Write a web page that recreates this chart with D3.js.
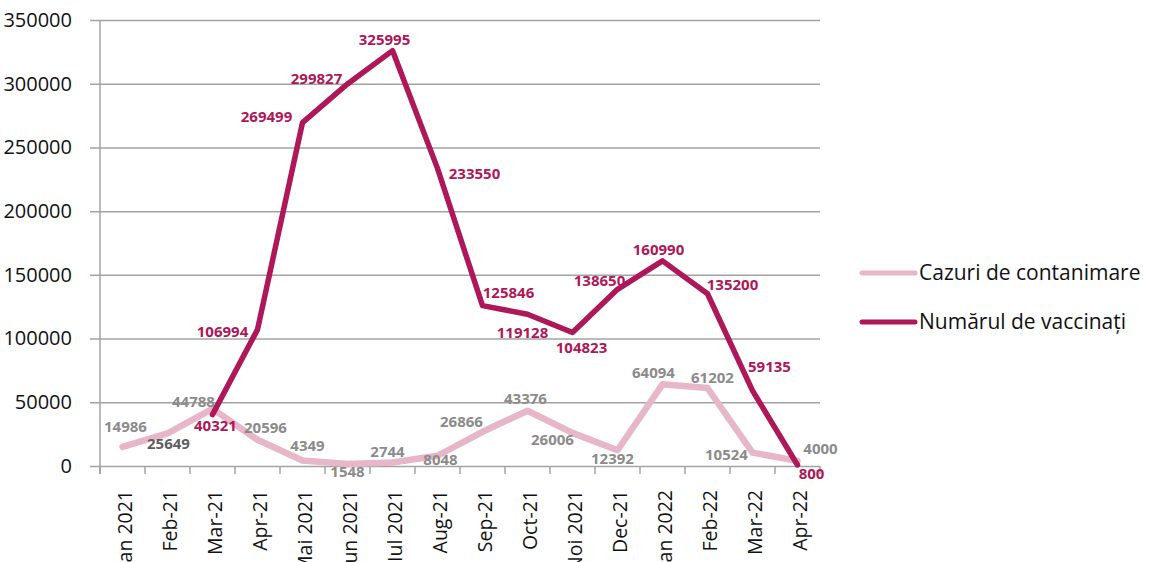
<!DOCTYPE html>
<html>
<head>
<meta charset="utf-8">
<script src="https://cdn.jsdelivr.net/npm/d3@7"></script>
<style>
  body { margin: 0; background: #fff; }
  .content { width: 1151px; height: 562px; overflow: hidden; }
  text { font-family: "Open Sans", "Noto Sans", sans-serif; }
</style>
</head>
<body>
<div class="content"></div>
<script>
var months = ['Ian 2021','Feb-21','Mar-21','Apr-21','Mai 2021','Iun 2021','Iul 2021','Aug-21',
  'Sep-21','Oct-21','Noi 2021','Dec-21','Ian 2022','Feb-22','Mar-22','Apr-22'];

var cazuri = [14986, 25649, 44788, 20596, 4349, 1548, 2744, 8048,
  26866, 43376, 26006, 12392, 64094, 61202, 10524, 4000];

// no vaccination data before Mar-21
var vaccinati = [null, null, 40321, 106994, 269499, 299827, 325995, 233550,
  125846, 119128, 104823, 138650, 160990, 135200, 59135, 800];

var yTicks = [0, 50000, 100000, 150000, 200000, 250000, 300000, 350000];

var seriesNames = ['Cazuri de contanimare', 'Numărul de vaccinați'];

// label offsets (dx, dy) from each point, like the excel placement
var cazuriLabelOff = [[3,-20],[1,10],[-19,-7],[8,-12],[5,-15],[0,8],[-5,-11],[3,4],
  [-21,-10],[-2,-12],[-20,7],[-5,8],[-9,-12],[5,-10],[-26,2],[23,-12]];
var vaccLabelOff = [null,null,[3,11],[-35,2],[-36,-6],[-31,-5],[-8,-11],[37,5],
  [26,-13],[-5,18],[9,15],[-18,-9],[-4,-11],[25,-9],[17,-24],[14,9]];

var pink = '#e7b6c9', crimson = '#ae1758';

var svg = d3.select('.content')
  .append('svg')
  .attr('width', 1151)
  .attr('height', 562);

var margin = {left: 100, top: 20},
  width = 720,
  height = 446;

var g = svg.append('g')
  .attr('transform', 'translate(' + margin.left + ',' + margin.top + ')');

var x = d3.scaleBand().range([0, width]).domain(months);
var y = d3.scaleLinear().range([height, 0]).domain([0, 350000]);

function cx(i) { return x(months[i]) + x.bandwidth() / 2; }

// grid + y axis
var axisY = g.append('g')
  .attr('class', 'axis axis--y')
  .call(d3.axisLeft(y).tickValues(yTicks).tickSize(-width).tickPadding(28).tickFormat(d3.format('d')));
axisY.selectAll('.tick line')
  .attr('x1', -10)
  .attr('stroke', '#a3a3a3')
  .attr('stroke-width', 1.5);
axisY.select('.domain').remove();
axisY.selectAll('text')
  .style('font-size', '20px')
  .style('fill', '#111');

g.append('line')
  .attr('x1', 0).attr('x2', 0)
  .attr('y1', 0).attr('y2', height + 8)
  .attr('stroke', '#a3a3a3')
  .attr('stroke-width', 1.5);

// x axis ticks between categories
var bounds = months.map(function (m) { return x(m); }).concat([width]);
g.append('g')
  .selectAll('line')
  .data(bounds)
  .enter()
  .append('line')
  .attr('x1', function (d) { return d; })
  .attr('x2', function (d) { return d; })
  .attr('y1', height)
  .attr('y2', height + 8)
  .attr('stroke', '#a3a3a3')
  .attr('stroke-width', 1.5);

g.append('g')
  .selectAll('text')
  .data(months)
  .enter()
  .append('text')
  .attr('transform', function (d, i) {
    return 'translate(' + (cx(i) + 3) + ',' + (height + 24) + ') rotate(-90)';
  })
  .attr('text-anchor', 'end')
  .attr('dy', '0.35em')
  .style('font-size', '19.5px')
  .style('fill', '#111')
  .text(function (d) { return d; });

// lines
var line = d3.line()
  .defined(function (d) { return d != null; })
  .x(function (d, i) { return cx(i); })
  .y(function (d) { return y(d); });

g.append('path')
  .datum(cazuri)
  .attr('d', line)
  .attr('fill', 'none')
  .attr('stroke', pink)
  .attr('stroke-width', 6.5)
  .attr('stroke-linejoin', 'round')
  .attr('stroke-linecap', 'round');

g.append('path')
  .datum(vaccinati)
  .attr('d', line)
  .attr('fill', 'none')
  .attr('stroke', crimson)
  .attr('stroke-width', 5.5)
  .attr('stroke-linejoin', 'round')
  .attr('stroke-linecap', 'round');

// data labels
g.append('g')
  .selectAll('text')
  .data(cazuri)
  .enter()
  .append('text')
  .attr('x', function (d, i) { return cx(i) + cazuriLabelOff[i][0]; })
  .attr('y', function (d, i) { return y(d) + cazuriLabelOff[i][1]; })
  .attr('text-anchor', 'middle')
  .attr('dy', '0.36em')
  .style('font-size', '15px')
  .style('font-weight', 'bold')
  .style('fill', function (d, i) { return i === 1 ? '#5e5e5e' : '#8b8b8b'; })
  .text(function (d) { return d; });

g.append('g')
  .selectAll('text')
  .data(vaccinati.map(function (v, i) { return {v: v, i: i}; }).filter(function (d) { return d.v != null; }))
  .enter()
  .append('text')
  .attr('x', function (d) { return cx(d.i) + vaccLabelOff[d.i][0]; })
  .attr('y', function (d) { return y(d.v) + vaccLabelOff[d.i][1]; })
  .attr('text-anchor', 'middle')
  .attr('dy', '0.36em')
  .style('font-size', '15px')
  .style('font-weight', 'bold')
  .style('fill', crimson)
  .text(function (d) { return d.v; });

// legend
var legend = svg.append('g')
  .attr('transform', 'translate(860,273)');

var items = legend.selectAll('g')
  .data(seriesNames)
  .enter()
  .append('g')
  .attr('transform', function (d, i) { return 'translate(0,' + i * 49 + ')'; });

items.append('line')
  .attr('x1', 2).attr('x2', 55)
  .attr('stroke', function (d, i) { return i === 0 ? pink : crimson; })
  .attr('stroke-width', 5)
  .attr('stroke-linecap', 'round');

items.append('text')
  .attr('x', 59)
  .attr('dy', '0.35em')
  .style('font-size', '21px')
  .style('fill', '#111')
  .text(function (d) { return d; });
</script>
</body>
</html>
